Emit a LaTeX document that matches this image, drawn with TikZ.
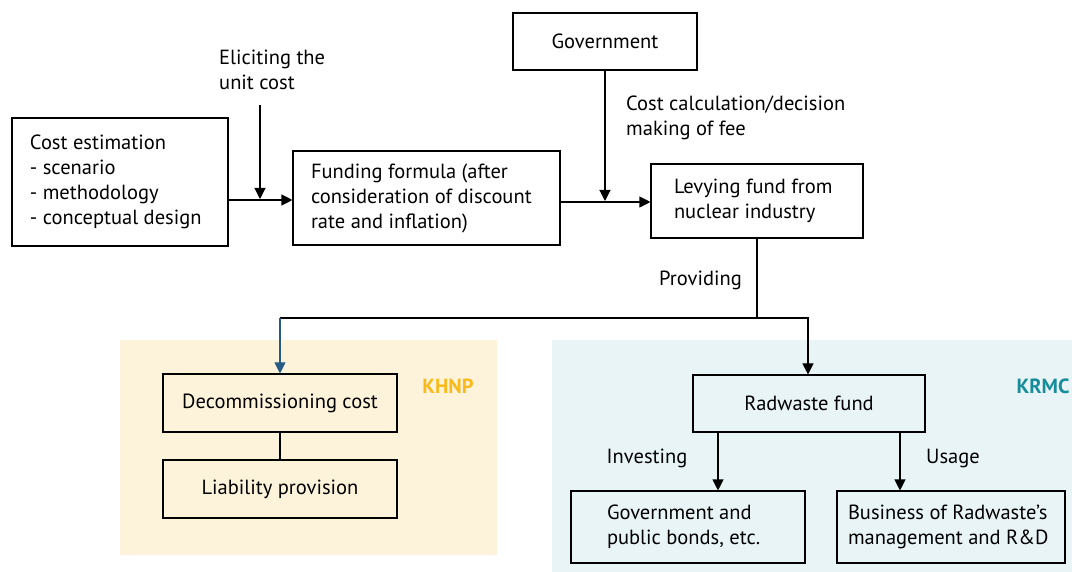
\documentclass[tikz,border=0pt]{standalone}
\usepackage{fontspec}
\setmainfont{PT Sans}
\usetikzlibrary{arrows.meta}
\definecolor{khnpbg}{HTML}{FDF3DB}
\definecolor{khnptx}{HTML}{FBBA1B}
\definecolor{krmcbg}{HTML}{E8F4F6}
\definecolor{krmctx}{HTML}{178C9B}
\definecolor{splitblue}{HTML}{265B86}
\newcommand{\boxline}{1.1pt}

\begin{document}
\begin{tikzpicture}[x=1pt,y=-1pt,font=\fontsize{20.5}{25}\selectfont,
    box/.style={draw, line width=\boxline, inner sep=0pt},
    arr/.style={-{Triangle[width=11pt,length=11pt]}, line width=\boxline}]
        \useasboundingbox (0,0) rectangle (1072,572);
        \fill[khnpbg] (120,340) rectangle (497,555);
        \fill[krmcbg] (552,340) rectangle (1072,572);

        \node (cost) at (120,182) [box, text width=180pt, inner xsep=18pt, minimum height=128pt, align=flush left]
          {Cost estimation\\- scenario\\- methodology\\- conceptual design};
        \node (funding) at (426.5,198) [box, text width=231pt, inner xsep=18pt, minimum height=94pt, align=flush left]
          {Funding formula (after\\consideration of discount\\rate and inflation)};
        \node (gov) at (605,41.5) [box, minimum width=184pt, minimum height=57pt] {Government};
        \node (levy) at (757,201) [box, text width=166pt, inner xsep=23pt, minimum height=74pt, align=flush left]
          {Levying fund from\\nuclear industry};
        \node (decom) at (280,403) [box, minimum width=234pt, minimum height=58pt] {Decommissioning cost};
        \node (liab) at (280,489) [box, minimum width=234pt, minimum height=58pt] {Liability provision};
        \node (radfund) at (809,403.5) [box, minimum width=232pt, minimum height=57pt] {Radwaste fund};
        \node (bonds) at (688,527) [box, text width=162pt, inner xsep=36pt, minimum height=72pt, align=flush left]
          {Government and\\public bonds, etc.};
        \node (business) at (951,527) [box, text width=206pt, inner xsep=11pt, minimum height=72pt, align=flush left]
          {Business of Radwaste’s\\management and R\&D};

        \node (elicit) at (219,70) [anchor=west, align=left, inner sep=0pt] {Eliciting the\\unit cost};
        \node (calc) at (626,118) [anchor=west, align=left, inner sep=0pt] {Cost calculation/decision\\making of fee};
        \node (providing) at (742,280) [anchor=east, inner sep=0pt] {Providing};
        \node (investing) at (647,458) [inner sep=0pt] {Investing};
        \node (usage) at (953,458) [inner sep=0pt] {Usage};
        \node (khnp) at (448,386) [inner sep=0pt, text=khnptx, font=\fontsize{20.5}{25}\selectfont\bfseries] {KHNP};
        \node (krmc) at (1043,386) [inner sep=0pt, text=krmctx, font=\fontsize{20.5}{25}\selectfont\bfseries] {KRMC};

        \coordinate (elicittop) at (260,105);
        \coordinate (split) at (757,318);
        \draw[arr] (cost.east |- 0,200) -- (funding.west |- 0,200);
        \draw[arr] (elicittop) -- (260,199);
        \draw[arr] (funding.east |- 0,202) -- (levy.west |- 0,202);
        \draw[arr] (gov.south) -- (gov.south |- 0,201);
        \draw[line width=\boxline] (levy.south) -- (split);
        \draw[line width=\boxline] (split) -- (decom.north |- split);
        \draw[arr, splitblue] (decom.north |- split) -- (decom.north);
        \draw[arr] (split) -| (radfund.north -| 808,0);
        \draw[line width=\boxline] (decom) -- (liab);
        \draw[arr] (radfund.south -| 718,0) -- (bonds.north -| 718,0);
        \draw[arr] (radfund.south -| 900,0) -- (business.north -| 900,0);
\end{tikzpicture}
\end{document}
